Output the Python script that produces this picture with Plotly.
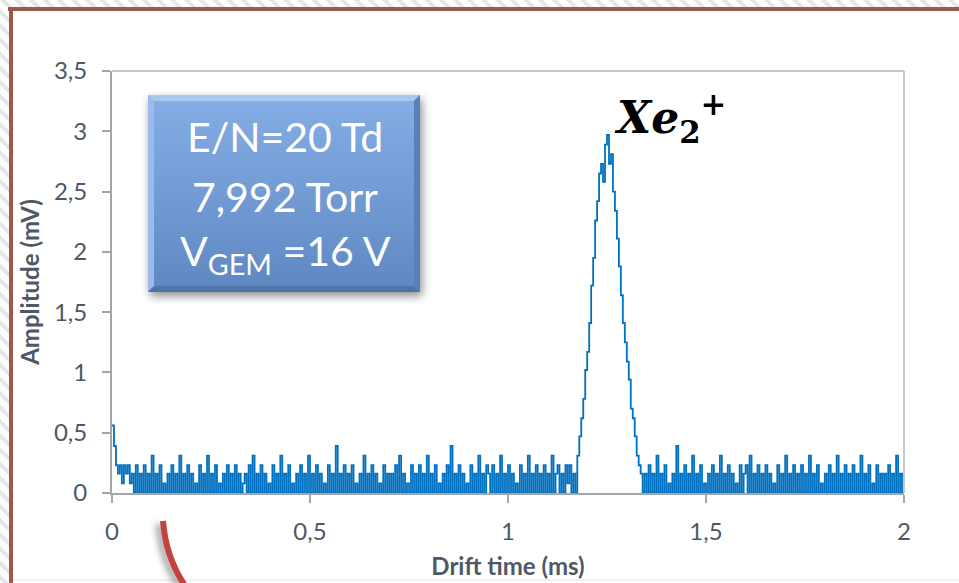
import base64
import plotly.graph_objects as go

# ---------------- data ----------------
SAMPLE_STEP_MS = 0.005

# baseline noise before the Xe2+ peak (0 ... 1.165 ms)
amp_before_mv = [
    .56, .39, .23, .16, .23, .08, .23, .16, .23, .08, .16, 0, .23, 0, .16, 0, .23, 0, .16, 0,
    .31, 0, .16, 0, .23, 0, .08, 0, .16, 0, .23, 0, .16, 0, .31, 0, .16, 0, .23, 0,
    .16, 0, .08, 0, .23, 0, .16, 0, .31, 0, .16, 0, .23, 0, .08, 0, .16, 0, .23, 0,
    .16, 0, .23, 0, .16, 0, .08, .16, 0, .23, 0, .31, 0, .16, 0, .23, 0, .16, 0, .08,
    0, .23, 0, .16, 0, .31, 0, .16, 0, .23, 0, .08, 0, .16, 0, .23, 0, .16, 0, .31,
    0, .16, 0, .23, 0, .16, 0, .08, 0, .23, 0, .16, 0, .39, 0, .16, 0, .23, 0, .16,
    0, .23, 0, .08, 0, .16, 0, .31, 0, .16, 0, .23, 0, .16, 0, .08, 0, .23, 0, .16,
    0, .16, 0, .23, 0, .31, 0, .16, 0, .08, 0, .23, 0, .16, 0, .23, 0, .16, 0, .31,
    0, .16, 0, .23, 0, .08, 0, .16, 0, .23, 0, .39, 0, .16, 0, .23, 0, .16, 0, .08,
    0, .23, 0, .16, 0, .31, 0, .16, 0, .23, .16, 0, .23, 0, .16, 0, .31, 0, .16, 0,
    .23, 0, .16, 0, .08, 0, .23, 0, .16, 0, .31, 0, .16, 0, .23, 0, .16, 0, .23, 0,
    .16, 0, .31, 0, .16, .23, 0, .16, 0, .23, .08, .23, 0, .16,
]

# Xe2+ peak (1.170 ... 1.340 ms)
amp_peak_mv = [
    0.0, 0.31, 0.47, 0.62, 0.78, 1.02, 1.17, 1.41, 1.72, 1.95,
    2.26, 2.42, 2.65, 2.73, 2.58, 2.89, 2.97, 2.73, 2.81, 2.50,
    2.34, 2.11, 1.88, 1.64, 1.41, 1.25, 1.09, 0.94, 0.70, 0.62,
    0.47, 0.31, 0.23, 0.16, 0.0,
]

# baseline noise after the peak (1.345 ... 2.000 ms)
amp_after_mv = [
    .16, 0, .23, 0, .16, 0, .31, 0, .16, 0, .23, 0, .08, 0, .16, 0, .39, 0, .16, 0,
    .23, 0, .16, 0, .31, 0, .16, 0, .23, 0, .08, 0, .16, 0, .23, 0, .16, 0, .31, 0,
    .16, 0, .23, 0, .16, 0, .08, 0, .23, 0, .16, .23, 0, .31, 0, .16, 0, .23, 0, .16,
    0, .23, 0, .16, 0, .08, 0, .23, 0, .16, 0, .31, 0, .16, 0, .23, 0, .16, 0, .23,
    0, .16, 0, .31, 0, .16, 0, .23, 0, .08, 0, .16, 0, .23, 0, .16, 0, .31, 0, .16,
    0, .23, 0, .16, 0, .23, 0, .16, 0, .31, 0, .16, 0, .23, 0, .08, 0, .23, 0, .16,
    0, .16, 0, .23, 0, .16, 0, .31, 0, .16, 0, .23,
]

amplitude_mv = amp_before_mv + amp_peak_mv + amp_after_mv
drift_time_ms = [round(i * SAMPLE_STEP_MS, 4) for i in range(len(amplitude_mv))]

x_ticks = [0, 0.5, 1, 1.5, 2]
x_tick_labels = ["0", "0,5", "1", "1,5", "2"]
y_ticks = [0, 0.5, 1, 1.5, 2, 2.5, 3, 3.5]
y_tick_labels = ["0", "0,5", "1", "1,5", "2", "2,5", "3", "3,5"]

box_lines = ["E/N=20 Td", "7,992 Torr", "V<sub>GEM</sub> =16 V"]
peak_label = "<b><i>Xe</i><sub>2</sub><sup>+</sup></b>"

# ---------------- layout geometry ----------------
W, H = 959, 583
L, R, T, B = 112, 904, 71, 493   # plot area in pixels


def px_x(p):
    return (p - L) / (R - L)


def px_y(p):
    return (B - p) / (B - T)


# decorative background (frame, hatch, arc, bevelled box) as an SVG image
svg = f'''<svg xmlns="http://www.w3.org/2000/svg" width="{W}" height="{H}" viewBox="0 0 {W} {H}">
<defs>
<pattern id="h" width="10" height="10" patternUnits="userSpaceOnUse" patternTransform="rotate(-45)">
<rect width="10" height="10" fill="#ffffff"/><rect width="4" height="10" fill="#e6e6e6"/>
</pattern>
<linearGradient id="g" x1="0" y1="0" x2="0" y2="1">
<stop offset="0" stop-color="#86aee5"/><stop offset="1" stop-color="#5f88c3"/>
</linearGradient>
<filter id="s" x="-30%" y="-30%" width="160%" height="160%"><feGaussianBlur stdDeviation="5"/></filter>
<filter id="s2" x="-50%" y="-50%" width="200%" height="200%"><feGaussianBlur stdDeviation="3"/></filter>
</defs>
<rect x="0" y="0" width="{W}" height="8" fill="url(#h)"/>
<rect x="0" y="0" width="10" height="{H}" fill="url(#h)"/>
<line x1="8" y1="9" x2="{W}" y2="9" stroke="#9e5a48" stroke-width="4"/>
<line x1="11" y1="7" x2="11" y2="{H}" stroke="#9e5a48" stroke-width="4"/>
<line x1="13" y1="580" x2="{W}" y2="580" stroke="#ececec" stroke-width="1.5"/>
<path d="M163,521 Q166,560 188,590" stroke="#000" stroke-opacity="0.35" stroke-width="7" fill="none" filter="url(#s2)" transform="translate(-4,3)"/>
<path d="M163,521 Q166,560 188,590" stroke="#c4433f" stroke-width="6" fill="none"/>
<rect x="148" y="95" width="272" height="197" fill="#000" opacity="0.45" filter="url(#s)" transform="translate(2,4)"/>
<rect x="148" y="95" width="272" height="197" fill="url(#g)"/>
<polygon points="148,95 420,95 414,101 154,101" fill="#a9c8f0"/>
<polygon points="148,95 154,101 154,286 148,292" fill="#9bbcea"/>
<polygon points="420,95 420,292 414,286 414,101" fill="#5a80b9"/>
<polygon points="148,292 420,292 414,286 154,286" fill="#4f74aa"/>
</svg>'''
svg_uri = "data:image/svg+xml;base64," + base64.b64encode(svg.encode()).decode()

AXIS_GRAY = "#a3a6ab"
TEXT_GRAY = "#4e5866"

fig = go.Figure()
fig.add_trace(go.Scatter(
    x=drift_time_ms, y=amplitude_mv, mode="lines",
    line=dict(color="#0070c0", width=1.8, shape="hv"),
    hoverinfo="x+y", showlegend=False,
))

fig.update_layout(
    width=W, height=H,
    margin=dict(l=L, r=W - R, t=T, b=H - B, autoexpand=False),
    paper_bgcolor="#ffffff", plot_bgcolor="rgba(0,0,0,0)",
    separators=", ",
    font=dict(family="Lato, 'Open Sans', sans-serif", color=TEXT_GRAY),
    xaxis=dict(
        range=[0, 2], tickvals=x_ticks, ticktext=x_tick_labels,
        ticks="outside", ticklen=8, tickcolor=AXIS_GRAY, tickwidth=1.5,
        showline=True, linecolor=AXIS_GRAY, linewidth=2,
        showgrid=False, zeroline=False,
        tickfont=dict(size=24, color=TEXT_GRAY), ticklabelstandoff=8,
        title=dict(text="<b>Drift time (ms)</b>", font=dict(size=24, color=TEXT_GRAY), standoff=14),
    ),
    yaxis=dict(
        range=[0, 3.5], tickvals=y_ticks, ticktext=y_tick_labels,
        ticks="outside", ticklen=8, tickcolor=AXIS_GRAY, tickwidth=1.5,
        showline=True, linecolor=AXIS_GRAY, linewidth=2,
        showgrid=False, zeroline=False,
        tickfont=dict(size=24, color=TEXT_GRAY), ticklabelstandoff=10,
        title=dict(text="<b>Amplitude (mV)</b>", font=dict(size=24, color=TEXT_GRAY), standoff=8),
    ),
    images=[dict(
        source=svg_uri, xref="paper", yref="paper",
        x=px_x(0), y=px_y(0), sizex=W / (R - L), sizey=H / (B - T),
        xanchor="left", yanchor="top", sizing="stretch", layer="below",
    )],
    shapes=[
        dict(type="line", xref="paper", yref="paper", x0=0, x1=1, y0=1, y1=1,
             line=dict(color="#c3cad4", width=2)),
        dict(type="line", xref="paper", yref="paper", x0=1, x1=1, y0=0, y1=1,
             line=dict(color="#c3cad4", width=2)),
    ],
)

box_cx = px_x(285)
for txt, ypix in zip(box_lines, [137, 196, 253]):
    fig.add_annotation(
        text=txt, xref="paper", yref="paper", x=box_cx, y=px_y(ypix),
        xanchor="center", yanchor="middle", showarrow=False,
        font=dict(family="Lato, sans-serif", size=41, color="#ffffff"),
    )

fig.add_annotation(
    text=peak_label, xref="paper", yref="paper", x=px_x(612), y=px_y(118),
    xanchor="left", yanchor="middle", showarrow=False,
    font=dict(family="'DejaVu Serif', serif", size=44, color="#000000"),
)

fig.write_html(
    "out.html",
    config={"displayModeBar": False},
    post_script="document.body.style.margin='0';document.body.style.padding='0';",
)
